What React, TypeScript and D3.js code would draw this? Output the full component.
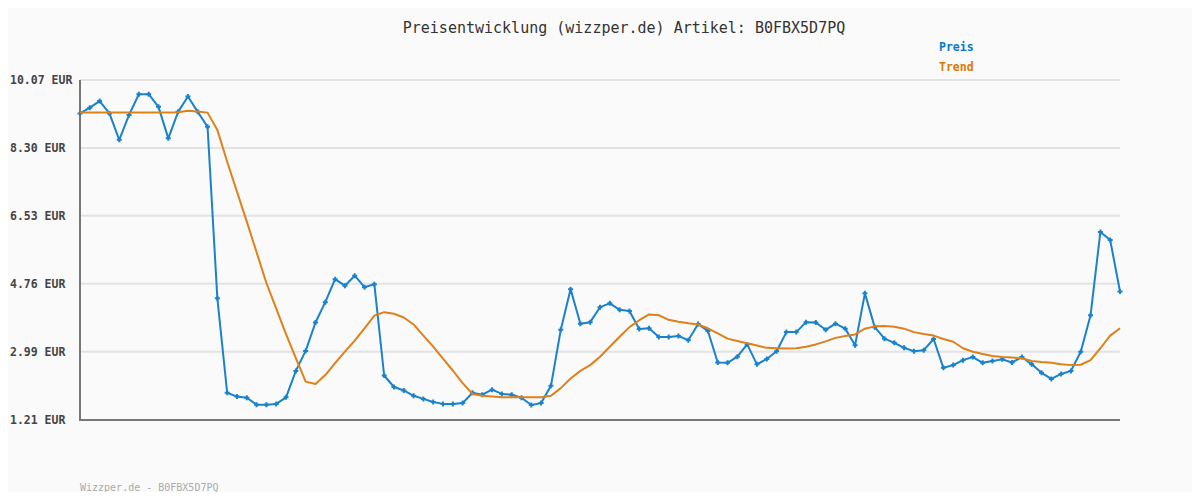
import React from "react";
import * as d3 from "d3";

const TITLE = "Preisentwicklung (wizzper.de) Artikel: B0FBX5D7PQ";
const FOOTER = "Wizzper.de - B0FBX5D7PQ";
const SERIES_NAMES = ["Preis", "Trend"];
const Y_TICKS = [1.21, 2.99, 4.76, 6.53, 8.3, 10.07];

const PRICE = [
  9.2, 9.35, 9.52, 9.2, 8.51, 9.16, 9.7, 9.7, 9.37, 8.55,
  9.24, 9.64, 9.24, 8.85, 4.38, 1.92, 1.82, 1.79, 1.61, 1.61,
  1.63, 1.8, 2.49, 3.01, 3.75, 4.28, 4.88, 4.71, 4.97, 4.67,
  4.75, 2.37, 2.07, 1.98, 1.84, 1.76, 1.68, 1.63, 1.63, 1.65,
  1.92, 1.87, 2.0, 1.89, 1.87, 1.79, 1.6, 1.65, 2.1, 3.56,
  4.62, 3.72, 3.76, 4.15, 4.25, 4.08, 4.05, 3.58, 3.6, 3.37,
  3.37, 3.4, 3.29, 3.71, 3.53, 2.71, 2.7, 2.86, 3.18, 2.66,
  2.8, 3.0, 3.5, 3.5, 3.76, 3.75, 3.56, 3.72, 3.59, 3.16,
  4.51, 3.63, 3.33, 3.22, 3.09, 3.0, 3.03, 3.32, 2.57, 2.64,
  2.77, 2.85, 2.7, 2.75, 2.79, 2.71, 2.85, 2.66, 2.44, 2.28,
  2.41, 2.49, 2.99, 3.94, 6.11, 5.9, 4.56,
];

const TREND = [
  9.22, 9.22, 9.22, 9.22, 9.22, 9.22, 9.22, 9.22, 9.22, 9.22,
  9.23, 9.27, 9.25, 9.22, 8.77, 7.94, 7.16, 6.38, 5.58, 4.78,
  4.11, 3.45, 2.82, 2.21, 2.15, 2.38, 2.69, 2.99, 3.28, 3.6,
  3.93, 4.02, 3.98, 3.88, 3.7, 3.41, 3.12, 2.81, 2.5, 2.17,
  1.89, 1.84, 1.82, 1.8, 1.8, 1.8, 1.8, 1.8, 1.84, 2.04,
  2.29, 2.49, 2.64, 2.86, 3.12, 3.38, 3.63, 3.81, 3.96, 3.94,
  3.82, 3.77, 3.73, 3.7, 3.6, 3.47, 3.33, 3.27, 3.21, 3.15,
  3.09, 3.08, 3.07, 3.08, 3.12, 3.18, 3.26, 3.35, 3.4, 3.44,
  3.59, 3.65, 3.66, 3.64, 3.59, 3.5, 3.45, 3.41, 3.32, 3.25,
  3.08, 2.99, 2.93, 2.88, 2.85, 2.84, 2.82, 2.75, 2.72, 2.7,
  2.66, 2.64, 2.65, 2.77, 3.08, 3.41, 3.6,
];

const BLUE = "#1a82cc";
const ORANGE = "#e0801a";
const MONO = "'DejaVu Sans Mono', 'Liberation Mono', monospace";

export default function App() {
  const W = 1200;
  const H = 500;
  const left = 80;
  const right = 1120;
  const top = 80;
  const bottom = 420;

  const x = d3.scaleLinear().domain([0, PRICE.length - 1]).range([left, right]);
  const y = d3.scaleLinear().domain([1.21, 10.07]).range([bottom, top]);

  const line = d3
    .line<number>()
    .x((_, i) => x(i))
    .y((d) => y(d));

  const fmt = (v: number) => v.toFixed(2) + " EUR";

  return (
    <div style={{ margin: -8, width: W, height: H, background: "#fafafa" }}>
      <svg width={W} height={H} style={{ display: "block", background: "#fafafa" }}>
        <text
          x={624}
          y={33}
          textAnchor="middle"
          fontFamily={MONO}
          fontSize={15}
          fill="#333"
        >
          {TITLE}
        </text>

        {Y_TICKS.map((t, i) => (
          <g key={i}>
            {i > 0 && (
              <line
                x1={left}
                x2={right}
                y1={y(t)}
                y2={y(t)}
                stroke="#e3e3e3"
                strokeWidth={2}
              />
            )}
            <text
              x={10}
              y={y(t)}
              dy="0.35em"
              fontFamily={MONO}
              fontSize={11.5}
              fontWeight="bold"
              fill="#444"
            >
              {fmt(t)}
            </text>
          </g>
        ))}

        <line x1={left} x2={left} y1={top} y2={bottom + 1} stroke="#777" strokeWidth={2} />
        <line x1={left - 1} x2={right} y1={bottom} y2={bottom} stroke="#777" strokeWidth={2} />

        <path d={line(PRICE) || ""} fill="none" stroke={BLUE} strokeWidth={2} strokeLinejoin="round" />
        {PRICE.map((v, i) => (
          <path
            key={i}
            d={`M${x(i) - 2.5},${y(v)}h5M${x(i)},${y(v) - 2.5}v5`}
            stroke={BLUE}
            strokeWidth={2}
          />
        ))}
        <path d={line(TREND) || ""} fill="none" stroke={ORANGE} strokeWidth={2} strokeLinejoin="round" />

        <text x={939} y={47} dy="0.35em" fontFamily={MONO} fontSize={11.5} fontWeight="bold" fill="#0a78c8">
          {SERIES_NAMES[0]}
        </text>
        <text x={939} y={67} dy="0.35em" fontFamily={MONO} fontSize={11.5} fontWeight="bold" fill="#e07800">
          {SERIES_NAMES[1]}
        </text>

        <text x={80} y={487} dy="0.35em" fontFamily={MONO} fontSize={10} fill="#aaa">
          {FOOTER}
        </text>
      </svg>
    </div>
  );
}
